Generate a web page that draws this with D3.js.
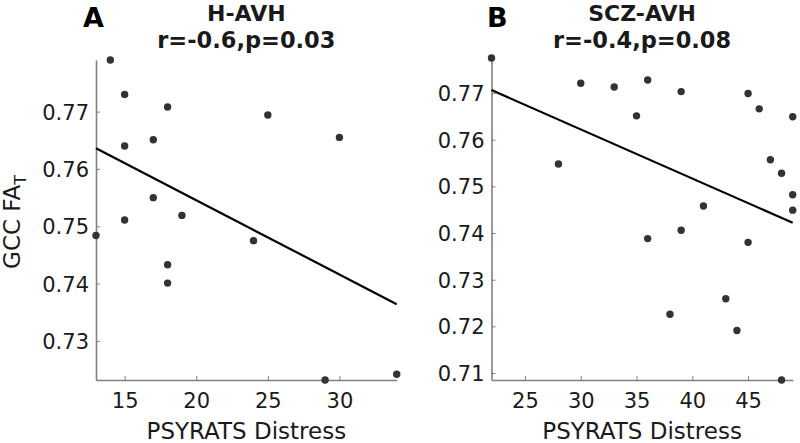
<!DOCTYPE html>
<html>
<head>
<meta charset="utf-8">
<script src="https://cdn.jsdelivr.net/npm/d3@7"></script>
<style>
  html, body { margin: 0; padding: 0; background: #fff; }
  svg { display: block; font-family: "DejaVu Sans", Verdana, sans-serif; }
</style>
</head>
<body>
<svg id="chart" width="800" height="443"></svg>
<script>
// ---- Data ----
// Panel A: H-AVH
const hX = [14, 15, 18, 15, 17, 17, 19, 15, 13, 24, 25, 30, 18, 18, 29, 34];
const hY = [0.7790, 0.7730, 0.7708, 0.7640, 0.7651, 0.7550, 0.7519, 0.7511,
            0.7484, 0.7475, 0.7694, 0.7655, 0.7433, 0.7401, 0.7232, 0.7242];
// Panel B: SCZ-AVH
const sX = [22, 30, 33, 36, 39, 35, 45, 46, 49, 28, 47, 48, 49, 49, 41, 39, 36, 45, 38, 43, 44, 48];
const sY = [0.7775, 0.7721, 0.7713, 0.7728, 0.7703, 0.7651, 0.7699, 0.7666, 0.7649,
            0.7548, 0.7557, 0.7528, 0.7482, 0.7449, 0.7458, 0.7406, 0.7388, 0.7380,
            0.7226, 0.7259, 0.7191, 0.7085];

const panelLetters = ["A", "B"];
const titles = ["H-AVH", "SCZ-AVH"];
const stats = ["r=-0.6,p=0.03", "r=-0.4,p=0.08"];
const xTicksA = [15, 20, 25, 30];
const yTicksA = [0.73, 0.74, 0.75, 0.76, 0.77];
const xTicksB = [25, 30, 35, 40, 45];
const yTicksB = [0.71, 0.72, 0.73, 0.74, 0.75, 0.76, 0.77];
const xLabel = "PSYRATS Distress";
const yLabelMain = "GCC FA";
const yLabelSub = "T";

// ---- Layout ----
const svg = d3.select("#chart");
const axisColor = "#808080";
const textColor = "#1a1a1a";
const dotColor = "#333333";

const panels = [
  { xs: hX, ys: hY, xr: [96, 396.7], yr: [380, 60], xt: xTicksA, yt: yTicksA, letterX: 83 },
  { xs: sX, ys: sY, xr: [491.5, 792.7], yr: [380, 58], xt: xTicksB, yt: yTicksB, letterX: 487 }
];

function linreg(xs, ys) {
  const mx = d3.mean(xs), my = d3.mean(ys);
  let sxy = 0, sxx = 0;
  xs.forEach((x, i) => { sxy += (x - mx) * (ys[i] - my); sxx += (x - mx) * (x - mx); });
  const b = sxy / sxx;
  return { a: my - b * mx, b };
}

panels.forEach((p, k) => {
  const x = d3.scaleLinear().domain(d3.extent(p.xs)).range(p.xr);
  const y = d3.scaleLinear().domain(d3.extent(p.ys)).range(p.yr);
  const g = svg.append("g");

  // axes
  const gx = g.append("g")
    .attr("transform", `translate(0,${p.yr[0]})`)
    .call(d3.axisBottom(x).tickValues(p.xt).tickFormat(d3.format("d"))
      .tickSizeInner(-4).tickSizeOuter(0).tickPadding(13));
  const gy = g.append("g")
    .attr("transform", `translate(${p.xr[0]},0)`)
    .call(d3.axisLeft(y).tickValues(p.yt).tickFormat(d3.format(".2f"))
      .tickSizeInner(-4).tickSizeOuter(0).tickPadding(7));
  [gx, gy].forEach(a => {
    a.select(".domain").attr("stroke", axisColor).attr("stroke-width", 1.6);
    a.selectAll(".tick line").attr("stroke", axisColor).attr("stroke-width", 1);
    a.selectAll(".tick text").attr("fill", textColor)
      .style("font-family", "'DejaVu Sans', sans-serif").style("font-size", "21px");
  });
  gx.selectAll(".tick text").attr("dy", "0.71em");
  gy.selectAll(".tick text").attr("dy", "0.36em");

  // regression line
  const fit = linreg(p.xs, p.ys);
  const dom = x.domain();
  g.append("line")
    .attr("x1", x(dom[0])).attr("y1", y(fit.a + fit.b * dom[0]))
    .attr("x2", x(dom[1])).attr("y2", y(fit.a + fit.b * dom[1]))
    .attr("stroke", "#000").attr("stroke-width", 2.2);

  // dots
  g.selectAll("circle.pt").data(p.xs.map((v, i) => [v, p.ys[i]]))
    .join("circle").attr("class", "pt")
    .attr("cx", d => x(d[0])).attr("cy", d => y(d[1]))
    .attr("r", 3.7).attr("fill", dotColor);

  const cx = (p.xr[0] + p.xr[1]) / 2;
  // titles
  g.append("text").attr("x", cx).attr("y", 21).attr("text-anchor", "middle")
    .attr("font-weight", "bold").attr("font-size", 22).attr("fill", textColor)
    .text(titles[k]);
  g.append("text").attr("x", cx).attr("y", 48).attr("text-anchor", "middle")
    .attr("font-weight", "bold").attr("font-size", 22.5).attr("fill", textColor)
    .text(stats[k]);
  // panel letter
  g.append("text").attr("x", p.letterX).attr("y", 27)
    .attr("font-weight", "bold").attr("font-size", 27).attr("fill", "#000")
    .text(panelLetters[k]);
  // x label
  g.append("text").attr("x", cx).attr("y", 439).attr("text-anchor", "middle")
    .attr("font-size", 23).attr("fill", textColor).text(xLabel);
});

// y label (panel A only)
const yl = svg.append("text")
  .attr("transform", "translate(20,222) rotate(-90)")
  .attr("text-anchor", "middle").attr("font-size", 23).attr("fill", textColor);
yl.append("tspan").text(yLabelMain);
yl.append("tspan").attr("font-size", 16).attr("dy", 6).text(yLabelSub);
</script>
</body>
</html>
